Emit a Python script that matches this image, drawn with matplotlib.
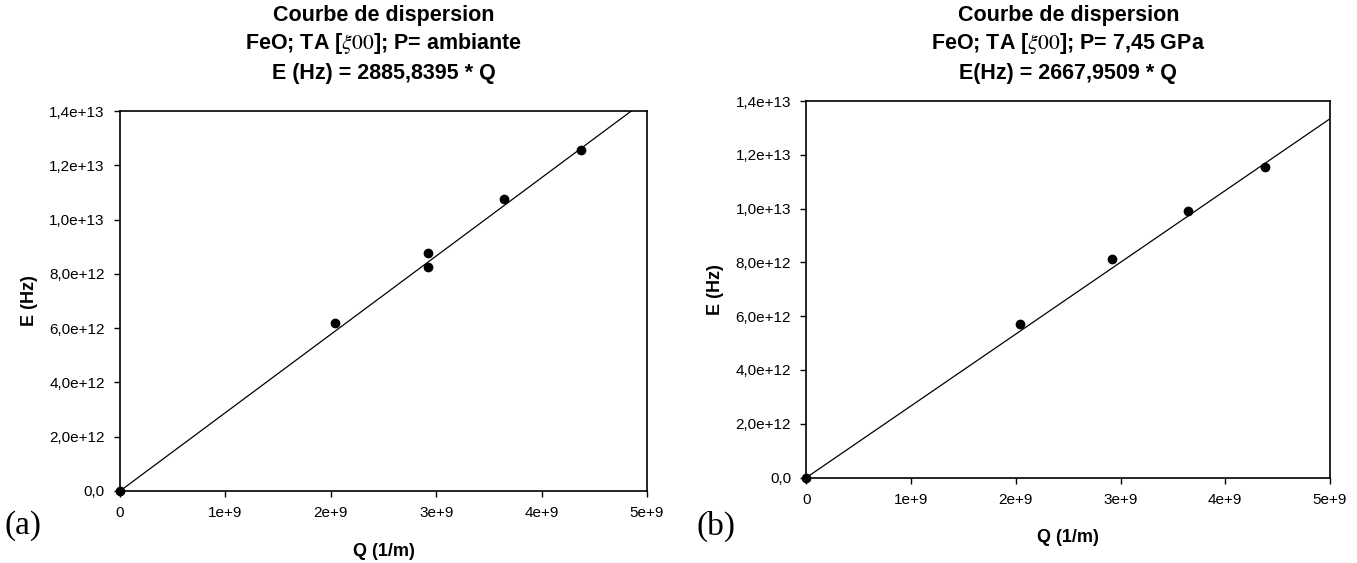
import matplotlib
matplotlib.use("Agg")
import matplotlib.pyplot as plt
import numpy as np
from matplotlib.ticker import FixedLocator, FixedFormatter

plt.rcParams['font.family'] = ['Liberation Sans', 'DejaVu Sans']
plt.rcParams['mathtext.fontset'] = 'stix'

# ---- data ----
q_a = [0.0, 2.04e9, 2.92e9, 2.92e9, 3.64e9, 4.37e9]
e_a = [0.0, 6.19e12, 8.76e12, 8.25e12, 1.075e13, 1.256e13]
slope_a = 2885.8395

q_b = [0.0, 2.04e9, 2.92e9, 3.64e9, 4.38e9]
e_b = [0.0, 5.71e12, 8.11e12, 9.91e12, 1.155e13]
slope_b = 2667.9509

x_ticks = [0, 1e9, 2e9, 3e9, 4e9, 5e9]
x_ticklabels = ['0', '1e+9', '2e+9', '3e+9', '4e+9', '5e+9']
y_ticks = [0, 2e12, 4e12, 6e12, 8e12, 1e13, 1.2e13, 1.4e13]
y_ticklabels = ['0,0', '2,0e+12', '4,0e+12', '6,0e+12', '8,0e+12',
                '1,0e+13', '1,2e+13', '1,4e+13']

titles = [
    ["Courbe de dispersion", "FeO; TA [$\\xi\\mathrm{00}$]; P= ambiante", "E (Hz) = 2885,8395 * Q"],
    ["Courbe de dispersion", "FeO; TA [$\\xi\\mathrm{00}$]; P= 7,45 GPa", "E(Hz) = 2667,9509 * Q"],
]
panel_labels = ['(a)', '(b)']

W, H = 1357, 563
fig = plt.figure(figsize=(W / 100, H / 100), dpi=100)

def px_axes(x0, x1, ytop, ybot):
    return fig.add_axes([x0 / W, (H - ybot) / H, (x1 - x0) / W, (ybot - ytop) / H])

ax_a = px_axes(120, 647, 111, 491)
ax_b = px_axes(806.5, 1330, 101, 477.5)

for ax, q, e, slope, title, ylab_x in [(ax_a, q_a, e_a, slope_a, titles[0], 30),
                                       (ax_b, q_b, e_b, slope_b, titles[1], 715)]:
    xl = np.array([0, x_ticks[-1]])
    ax.plot(xl, slope * xl, color='black', lw=0.9, zorder=2)
    ax.plot(q, e, 'o', color='black', ms=6, zorder=3, clip_on=False)
    ax.set_xlim(0, 5e9)
    ax.set_ylim(0, 1.4e13)
    ax.xaxis.set_major_locator(FixedLocator(x_ticks))
    ax.xaxis.set_major_formatter(FixedFormatter(x_ticklabels))
    ax.yaxis.set_major_locator(FixedLocator(y_ticks))
    ax.yaxis.set_major_formatter(FixedFormatter(y_ticklabels))
    ax.tick_params(direction='out', length=4, width=1, labelsize=11, pad=7,
                   top=False, right=False)
    for s in ax.spines.values():
        s.set_linewidth(1.2)
    ax.set_xlabel('Q (1/m)', fontsize=13, fontweight='bold', labelpad=16)
    ax.set_ylabel('E (Hz)', fontsize=13, fontweight='bold', va='center')
    pos = ax.get_position()
    ax.yaxis.set_label_coords((ylab_x / W - pos.x0) / pos.width, 0.5)
    cx = (pos.x0 + pos.x1) / 2
    for i, line in enumerate(title):
        fig.text(cx, 1 - (15 + 29 * i) / H, line, fontsize=15.5, fontweight='bold',
                 ha='center', va='center')

fig.text(5 / W, (H - 526) / H, panel_labels[0], fontsize=24, family='Liberation Serif',
         va='center', ha='left')
fig.text(697 / W, (H - 526) / H, panel_labels[1], fontsize=24, family='Liberation Serif',
         va='center', ha='left')

fig.savefig('out.png', dpi=100)
